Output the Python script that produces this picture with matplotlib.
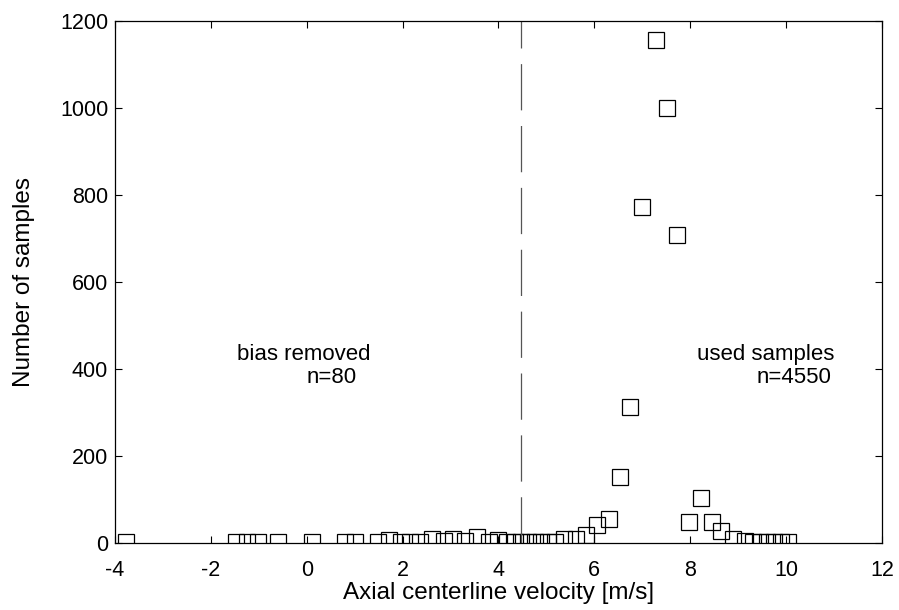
import numpy as np
import matplotlib.pyplot as plt

plt.rcParams['font.family'] = ['Liberation Sans', 'DejaVu Sans']
plt.rcParams['axes.unicode_minus'] = False

# velocity bins [m/s] and number of samples per bin
velocity = [-3.78, -1.48, -1.25, -1.02, -0.60, 0.11, 0.80, 1.00, 1.49, 1.72,
            1.97, 2.15, 2.36, 2.61, 2.86, 3.05, 3.30, 3.55, 3.80, 3.99,
            4.18, 4.34, 4.47, 4.61, 4.76, 4.89, 5.03, 5.18, 5.37, 5.62,
            5.82, 6.06, 6.30, 6.53, 6.74, 6.99, 7.28, 7.52, 7.73, 7.97,
            8.22, 8.45, 8.65, 8.90, 9.15, 9.30, 9.45, 9.60, 9.75, 9.90,
            10.05]
counts = [3, 2, 2, 2, 2, 2, 2, 2, 2, 7,
          3, 3, 3, 8, 4, 8, 5, 14, 3, 7,
          3, 3, 3, 3, 3, 3, 3, 3, 8, 8,
          18, 41, 54, 152, 313, 772, 1156, 1000, 708, 48,
          103, 48, 28, 9, 4, 3, 3, 3, 3, 3,
          3]

cutoff = 4.47

fig = plt.figure(figsize=(8.99, 6.10), dpi=100)
ax = fig.add_axes([0.128, 0.110, 0.853, 0.856])

ax.plot(velocity, counts, linestyle='none', marker='s', markersize=12,
        markerfacecolor='none', markeredgecolor='black', markeredgewidth=0.9)

ax.axvline(cutoff, color='#555555', linewidth=0.9, dashes=(37, 12.5))

ax.text(-1.46, 432, 'bias removed', fontsize=16, va='center', ha='left')
ax.text(0.0, 379, 'n=80', fontsize=16, va='center', ha='left')
ax.text(8.14, 432, 'used samples', fontsize=16, va='center', ha='left')
ax.text(9.39, 379, 'n=4550', fontsize=16, va='center', ha='left')

ax.set_xlim(-4, 12)
ax.set_ylim(0, 1200)
ax.set_xticks(np.arange(-4, 13, 2))
ax.set_yticks(np.arange(0, 1201, 200))
ax.tick_params(direction='in', top=True, right=True, length=5, width=0.8,
               labelsize=15.5)
ax.tick_params(axis='x', pad=12)
ax.tick_params(axis='y', pad=5)
for s in ax.spines.values():
    s.set_linewidth(0.9)

ax.set_xlabel('Axial centerline velocity [m/s]', fontsize=17.5, labelpad=1)
ax.set_ylabel('Number of samples', fontsize=17.5, labelpad=18)

fig.savefig('out.png', dpi=100)
